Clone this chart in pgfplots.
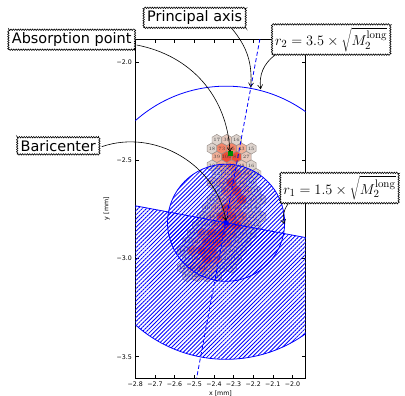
\documentclass[border=0pt]{standalone}
\usepackage[no-math]{fontspec}
\setmainfont{DejaVu Sans}
\usepackage{pgfplots}
\pgfplotsset{compat=1.18}
\usepackage{pgfplotstable}
\usetikzlibrary{patterns.meta,decorations.pathmorphing,arrows.meta}

\definecolor{hexA}{RGB}{222,212,206}
\definecolor{hexB}{RGB}{232,200,188}
\definecolor{hexC}{RGB}{242,176,152}
\definecolor{hexD}{RGB}{246,132,104}
\definecolor{hexE}{RGB}{240,76,56}
\definecolor{hexedge}{RGB}{150,140,135}

\newcommand\defhexmark[2]{%
\pgfdeclareplotmark{#1}{%
  \pgfsetfillcolor{#2}\pgfsetstrokecolor{hexedge}\pgfsetlinewidth{0.45bp}%
  \pgfpathmoveto{\pgfpointpolar{90}{\pgfplotmarksize}}%
  \pgfpathlineto{\pgfpointpolar{150}{\pgfplotmarksize}}%
  \pgfpathlineto{\pgfpointpolar{210}{\pgfplotmarksize}}%
  \pgfpathlineto{\pgfpointpolar{270}{\pgfplotmarksize}}%
  \pgfpathlineto{\pgfpointpolar{330}{\pgfplotmarksize}}%
  \pgfpathlineto{\pgfpointpolar{30}{\pgfplotmarksize}}%
  \pgfpathclose
  \pgfusepathqfillstroke}}
\defhexmark{hexmA}{hexA}
\defhexmark{hexmB}{hexB}
\defhexmark{hexmC}{hexC}
\defhexmark{hexmD}{hexD}
\defhexmark{hexmE}{hexE}

\pgfplotstableread{
x y v c
-2.385 -2.3970 17 a
-2.335 -2.3970 30 b
-2.285 -2.3970 16 a
-2.410 -2.4403 18 a
-2.360 -2.4403 73 d
-2.310 -2.4403 55 d
-2.260 -2.4403 43 c
-2.210 -2.4403 15 a
-2.385 -2.4836 39 c
-2.335 -2.4836 100 e
-2.285 -2.4836 81 e
-2.235 -2.4836 27 b
-2.410 -2.5269 12 a
-2.360 -2.5269 35 c
-2.310 -2.5269 60 d
-2.260 -2.5269 28 b
-2.210 -2.5269 16 a
-2.385 -2.5702 14 a
-2.335 -2.5702 45 c
-2.285 -2.5702 70 d
-2.235 -2.5702 38 c
-2.185 -2.5702 12 a
-2.410 -2.6135 20 b
-2.360 -2.6135 52 c
-2.310 -2.6135 85 e
-2.260 -2.6135 40 c
-2.210 -2.6135 10 a
-2.385 -2.6568 18 a
-2.335 -2.6568 60 d
-2.285 -2.6568 90 e
-2.235 -2.6568 35 c
-2.185 -2.6568 11 a
-2.410 -2.7001 15 a
-2.360 -2.7001 42 c
-2.310 -2.7001 75 d
-2.260 -2.7001 95 e
-2.210 -2.7001 30 b
-2.160 -2.7001 9 a
-2.435 -2.7434 10 a
-2.385 -2.7434 35 c
-2.335 -2.7434 80 e
-2.285 -2.7434 60 d
-2.235 -2.7434 25 b
-2.185 -2.7434 8 a
-2.460 -2.7867 12 a
-2.410 -2.7867 48 c
-2.360 -2.7867 90 e
-2.310 -2.7867 100 e
-2.260 -2.7867 55 d
-2.210 -2.7867 22 b
-2.160 -2.7867 7 a
-2.485 -2.8300 9 a
-2.435 -2.8300 30 b
-2.385 -2.8300 70 d
-2.335 -2.8300 95 e
-2.285 -2.8300 85 e
-2.235 -2.8300 40 c
-2.185 -2.8300 12 a
-2.510 -2.8733 14 a
-2.460 -2.8733 55 d
-2.410 -2.8733 100 e
-2.360 -2.8733 90 e
-2.310 -2.8733 60 d
-2.260 -2.8733 25 b
-2.210 -2.8733 8 a
-2.535 -2.9166 10 a
-2.485 -2.9166 40 c
-2.435 -2.9166 85 e
-2.385 -2.9166 100 e
-2.335 -2.9166 75 d
-2.285 -2.9166 30 b
-2.235 -2.9166 9 a
-2.560 -2.9599 18 a
-2.510 -2.9599 65 d
-2.460 -2.9599 95 e
-2.410 -2.9599 80 e
-2.360 -2.9599 45 c
-2.310 -2.9599 20 b
-2.260 -2.9599 7 a
-2.535 -3.0032 15 a
-2.485 -3.0032 50 c
-2.435 -3.0032 90 e
-2.385 -3.0032 70 d
-2.335 -3.0032 28 b
-2.285 -3.0032 10 a
-2.560 -3.0465 12 a
-2.510 -3.0465 40 c
-2.460 -3.0465 60 d
-2.410 -3.0465 35 c
-2.360 -3.0465 15 a
-2.310 -3.0465 8 a
-2.535 -3.0898 10 a
-2.485 -3.0898 25 b
-2.435 -3.0898 20 b
-2.385 -3.0898 9 a
}\hexdata

\tikzset{
  box/.style={draw=black, fill=white, line width=0.6bp, decorate,
    decoration={zigzag, segment length=2.4bp, amplitude=0.7bp},
    inner xsep=3.5bp, inner ysep=3bp, font=\fontsize{14.5}{17}\selectfont},
  mbox/.style={box, font=\fontsize{15.5}{18}\selectfont, inner xsep=3bp},
  arr/.style={-{Straight Barb[length=4bp,width=5bp]}, line width=0.6bp, black},
  hatch/.style={pattern={Lines[angle=45,distance=2.9bp,line width=0.85bp]}, pattern color=blue}
}
\pgfplotsset{
  geom/.style={
    at={(135.3bp,-378.3bp)}, anchor=south west,
    scale only axis, width=170.4bp, height=339.3bp,
    xmin=-2.8, xmax=-1.9328, ymin=-3.6097, ymax=-1.883}
}

\begin{document}
\begin{tikzpicture}[x=1bp,y=1bp]
\path[use as bounding box] (0,0) rectangle (405,-396);
% layer 1: hexagonal pixels
\begin{axis}[geom, hide axis]
\addplot[scatter, only marks, mark size=5.6bp,
  point meta=explicit symbolic,
  scatter/classes={a={mark=hexmA}, b={mark=hexmB}, c={mark=hexmC}, d={mark=hexmD}, e={mark=hexmE}},
] table[x=x, y=y, meta=c] {\hexdata};
\addplot[only marks, mark=none, point meta=explicit,
  nodes near coords,
  every node near coord/.append style={anchor=center, font=\fontsize{3.6}{4}\selectfont, text=black!75, inner sep=0pt},
] table[x=x, y=y, meta=v] {\hexdata};
\addplot[only marks, mark=square*, mark size=2.1bp, color=green!55!black] coordinates {(-2.318,-2.4646)};
\end{axis}
% layer 2: regions, lines and axes
\begin{axis}[geom,
  xtick={-2.8,-2.7,-2.6,-2.5,-2.4,-2.3,-2.2,-2.1,-2.0},
  xticklabels={−2.8,−2.7,−2.6,−2.5,−2.4,−2.3,−2.2,−2.1,−2.0},
  ytick={-3.5,-3.0,-2.5,-2.0},
  yticklabels={−3.5,−3.0,−2.5,−2.0},
  tick align=inside, major tick length=3.5bp, minor tick num=0,
  tick style={black, line width=0.6bp},
  axis line style={black, line width=0.8bp},
  ticklabel style={font=\fontsize{6.3}{7}\selectfont},
  xlabel={x [mm]}, ylabel={y [mm]},
  label style={font=\fontsize{6.3}{7}\selectfont},
  xlabel style={yshift=2.5bp},
]
\begin{scope}
\clip (axis cs:-3.2,-2.6572) -- (axis cs:-1.5,-2.9743) -- (axis cs:-1.5,-4.2) -- (axis cs:-3.2,-4.2) -- cycle;
\fill[hatch] (axis cs:-2.338,-2.818) circle [radius=0.695];
\end{scope}
\fill[hatch] (axis cs:-2.338,-2.818) circle [radius=0.298];
\draw[blue, line width=0.8bp] (axis cs:-2.338,-2.818) circle [radius=0.695];
\draw[blue, line width=0.8bp] (axis cs:-2.338,-2.818) circle [radius=0.298];

\addplot[blue, line width=0.8bp] coordinates {(-2.8,-2.7318) (-1.9328,-2.8936)};
\addplot[blue, line width=0.8bp, dash pattern=on 4bp off 2.5bp] coordinates {(-2.166,-1.883) (-2.488,-3.6097)};
\addplot[only marks, mark=*, mark size=2.3bp, color=blue] coordinates {(-2.338,-2.818)};
\end{axis}

% arrows
\draw[arr] (231.7,-28.3) to[bend left=22] (250.7,-87.3);
\draw[arr] (275,-55) to[bend right=30] (260.7,-89.3);
\draw[arr] (136.7,-45) to[bend left=38] (230,-152);
\draw[arr] (101.7,-146.7) to[bend left=50] (226,-221);
\draw[arr] (288,-204) to[bend right=25] (284.3,-224);

% boxes
\node[box] at (194.7,-17.8) {Principal axis};
\node[box] at (71.7,-39.7) {Absorption point};
\node[box] at (58.3,-145.8) {Baricenter};
\node[mbox, anchor=west] at (271.7,-39.5) {$r_2=3.5\times\sqrt{M_2^{\mathrm{long}}}$};
\node[mbox, anchor=west] at (280,-188) {$r_1=1.5\times\sqrt{M_2^{\mathrm{long}}}$};
\end{tikzpicture}
\end{document}
